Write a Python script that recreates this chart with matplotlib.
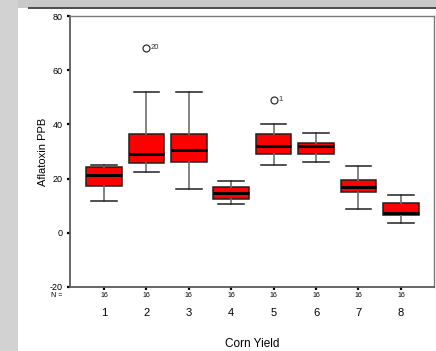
import numpy as np
import matplotlib
matplotlib.use('Agg')
import matplotlib.pyplot as plt
from matplotlib.patches import Rectangle

plt.rcParams['font.family'] = ['Liberation Sans', 'DejaVu Sans']

# Aflatoxin (PPB) summary per corn yield group
groups = [1, 2, 3, 4, 5, 6, 7, 8]
counts = [16, 16, 16, 16, 16, 16, 16, 16]
whislo = [11.8, 22.3, 16.0, 10.7, 25.0, 26.1, 8.7, 3.8]
q1 = [17.1, 25.7, 26.1, 12.4, 29.0, 29.2, 14.9, 6.4]
med = [21.5, 29.2, 30.6, 14.6, 31.9, 31.9, 17.0, 7.3]
q3 = [24.1, 36.4, 36.4, 17.0, 36.4, 33.1, 19.4, 11.1]
whishi = [25.0, 52.0, 52.0, 19.1, 40.0, 37.0, 24.8, 14.1]
outliers = [[], [68.2], [], [], [49.1], [], [], []]
outlier_ids = [[], ['20'], [], [], ['1'], [], [], []]

W, H = 436, 351
fig = plt.figure(figsize=(W / 100, H / 100), dpi=100)
fig.patch.set_facecolor('white')

# window chrome: textured side strip and toolbar
fig.patches.append(Rectangle((0, 0), 18 / W, 1, transform=fig.transFigure,
                             facecolor='#d2d2d2', edgecolor='none', zorder=0))
fig.patches.append(Rectangle((18 / W, 1 - 8 / H), 1, 8 / H, transform=fig.transFigure,
                             facecolor='#c9c9c9', edgecolor='none', zorder=0))
fig.patches.append(Rectangle((28 / W, 1 - 8.5 / H), 1, 1.2 / H, transform=fig.transFigure,
                             facecolor='#505050', edgecolor='none', zorder=0))

ax = fig.add_axes([70 / W, 1 - 287 / H, 364 / W, 271 / H])

stats = []
for i in range(len(groups)):
    stats.append(dict(whislo=whislo[i], q1=q1[i], med=med[i], q3=q3[i],
                      whishi=whishi[i], fliers=outliers[i]))

ax.bxp(stats, positions=groups, widths=0.84, patch_artist=True,
       boxprops=dict(facecolor='#ff0000', edgecolor='#202020', linewidth=1.1),
       medianprops=dict(color='black', linewidth=2.2),
       whiskerprops=dict(color='#6e6e6e', linewidth=1.2),
       capprops=dict(color='#202020', linewidth=1.1),
       capwidths=0.6,
       flierprops=dict(marker='o', markersize=5, markerfacecolor='white',
                       markeredgecolor='#303030', markeredgewidth=0.9))

for i, ids in enumerate(outlier_ids):
    for v, label in zip(outliers[i], ids):
        ax.text(groups[i] + 0.11, v, label, fontsize=5.5, va='center', ha='left',
                color='#303030')

ax.set_xlim(0.2, 8.78)
ax.set_ylim(-20, 80)
ax.set_yticks([-20, 0, 20, 40, 60, 80])
ax.set_yticklabels(['-20', '0', '20', '40', '60', '80'])
ax.set_xticks(groups)
ax.set_xticklabels([])
ax.tick_params(axis='y', direction='out', length=2.5, width=1.6, labelsize=6.5,
               pad=3, colors='black')
ax.tick_params(axis='x', direction='out', length=2, width=1.6, colors='black')

for side in ['left', 'bottom']:
    ax.spines[side].set_color('#5a5a5a')
    ax.spines[side].set_linewidth(1.3)
for side in ['top', 'right']:
    ax.spines[side].set_color('#7a7a7a')
    ax.spines[side].set_linewidth(1.0)

# group sizes and group names under the axis
tr = ax.get_xaxis_transform()
ax.text(0.03, -0.033, 'N =', transform=tr, fontsize=5, ha='right', va='center')
for g, n in zip(groups, counts):
    ax.text(g, -0.033, str(n), transform=tr, fontsize=5, ha='center', va='center')
    ax.text(g, -0.096, str(g), transform=tr, fontsize=8, ha='center', va='center')

ax.text(0.5, -0.21, 'Corn Yield', transform=ax.transAxes, fontsize=8.5,
        ha='center', va='center')
ax.set_ylabel('Aflatoxin PPB', fontsize=8, labelpad=1)

fig.savefig('out.png', dpi=100)
